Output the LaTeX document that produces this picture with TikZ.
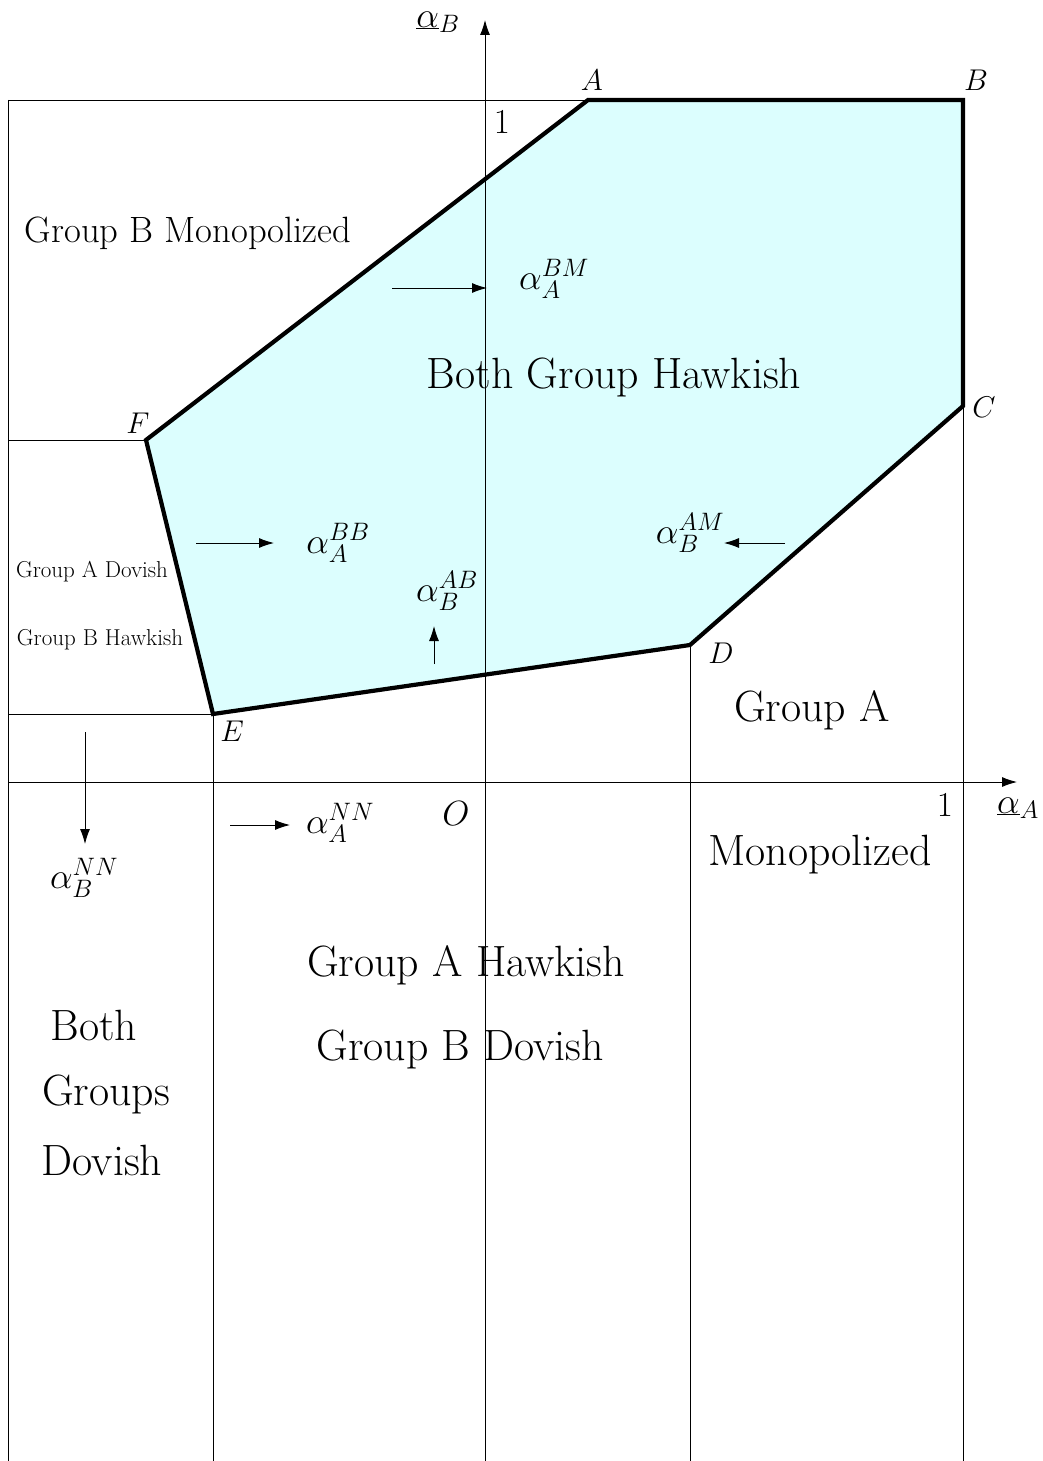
\documentclass[tikz,border=0pt]{standalone}
\usepackage{fix-cm}
\usetikzlibrary{arrows.meta}
\definecolor{regfill}{RGB}{220,254,254}
\tikzset{
  thin line/.style={line width=0.9pt},
  bound/.style={line width=4.2pt, line join=miter},
  arr/.style={line width=0.9pt, -{Latex[length=15pt,width=10pt]}},
  bigtxt/.style={font=\fontsize{43.8}{52}\selectfont, inner sep=0pt},
  midtxt/.style={font=\fontsize{36.6}{44}\selectfont, inner sep=0pt},
  smalltxt/.style={font=\fontsize{23}{28}\selectfont, inner sep=0pt},
  ptlbl/.style={font=\fontsize{30}{36}\selectfont, inner sep=0pt},
  biglbl/.style={font=\fontsize{35}{42}\selectfont, inner sep=0pt},
  mlbl/.style={font=\fontsize{36}{43}\selectfont, inner sep=0pt},
}
\begin{document}
\begin{tikzpicture}[x=1pt,y=-1pt]
\useasboundingbox (0,0) rectangle (1043,1461);
% vertices
\coordinate (A) at (588,100);
\coordinate (B) at (963,100);
\coordinate (C) at (963,406);
\coordinate (D) at (690,645);
\coordinate (E) at (213,714);
\coordinate (F) at (146,440);
\coordinate (O) at (485,782);
% frame points
\coordinate (TL) at (8,100);
\coordinate (BL) at (8,1461);
\coordinate (FL) at (8,440);
\coordinate (EL) at (8,714);
\coordinate (Eb) at (213,1461);
\coordinate (Db) at (690,1461);
\coordinate (Cb) at (963,1461);
\coordinate (XL) at (8,782);
\coordinate (XR) at (1017,782);
\coordinate (YB) at (485,1461);
\coordinate (YT) at (485,20);
% region fill
\fill[regfill] (A) -- (B) -- (C) -- (D) -- (E) -- (F) -- cycle;
% thin lines
\draw[thin line] (TL) -- (A);
\draw[thin line] (TL) -- (BL);
\draw[thin line] (FL) -- (F);
\draw[thin line] (EL) -- (E);
\draw[thin line] (E) -- (Eb);
\draw[thin line] (D) -- (Db);
\draw[thin line] (C) -- (Cb);
% axes
\draw[arr] (XL) -- (XR);
\draw[arr] (YB) -- (YT);
% boundary
\draw[bound] (A) -- (B) -- (C) -- (D) -- (E) -- (F) -- cycle;
% point labels
\node[ptlbl] (lA) at (592,80) {$A$};
\node[ptlbl] (lB) at (976,80) {$B$};
\node[ptlbl] (lC) at (984,407) {$C$};
\node[ptlbl] (lD) at (721,653) {$D$};
\node[ptlbl] (lE) at (232,731) {$E$};
\node[ptlbl] (lF) at (138,423) {$F$};
\node[biglbl] (lO) at (456,814) {$O$};
\node[biglbl] (one1) at (502,122) {$1$};
\node[biglbl] (one2) at (945,805) {$1$};
\node[mlbl] (ab) at (438,22) {$\underline{\alpha}_B$};
\node[mlbl] (aa) at (1018,808) {$\underline{\alpha}_A$};
% arrows and labels
\coordinate (a1s) at (392,288); \coordinate (a1e) at (487,288);
\draw[arr] (a1s) -- (a1e);
\node[mlbl] (lBM) at (554,279) {$\alpha_A^{BM}$};
\coordinate (a2s) at (196,543); \coordinate (a2e) at (274,543);
\draw[arr] (a2s) -- (a2e);
\node[mlbl] (lBB) at (338,543) {$\alpha_A^{BB}$};
\coordinate (a3s) at (785,543); \coordinate (a3e) at (724,543);
\draw[arr] (a3s) -- (a3e);
\node[mlbl] (lAM) at (690,533) {$\alpha_B^{AM}$};
\coordinate (a4s) at (434,664); \coordinate (a4e) at (434,626);
\draw[arr] (a4s) -- (a4e);
\node[mlbl] (lAB) at (447,591) {$\alpha_B^{AB}$};
\coordinate (a5s) at (85,732); \coordinate (a5e) at (85,844);
\draw[arr] (a5s) -- (a5e);
\node[mlbl] (lNNB) at (84,878) {$\alpha_B^{NN}$};
\coordinate (a6s) at (230,825); \coordinate (a6e) at (290,825);
\draw[arr] (a6s) -- (a6e);
\node[mlbl] (lNNA) at (340,823) {$\alpha_A^{NN}$};
% region texts
\node[midtxt] (tBM) at (188,233) {Group B Monopolized};
\node[bigtxt] (tBH) at (614,377) {Both Group Hawkish};
\node[smalltxt] (tAD) at (92,572) {Group A Dovish};
\node[smalltxt] (tBHk) at (100,640) {Group B Hawkish};
\node[bigtxt] (tGA) at (812,710) {Group A};
\node[bigtxt] (tMo) at (820,855) {Monopolized};
\node[bigtxt] (tAH) at (466,965) {Group A Hawkish};
\node[bigtxt] (tBD) at (460,1049) {Group B Dovish};
\node[bigtxt] (tB1) at (94,1025) {Both};
\node[bigtxt] (tB2) at (106,1094) {Groups};
\node[bigtxt] (tB3) at (102,1160) {Dovish};
\end{tikzpicture}
\end{document}
